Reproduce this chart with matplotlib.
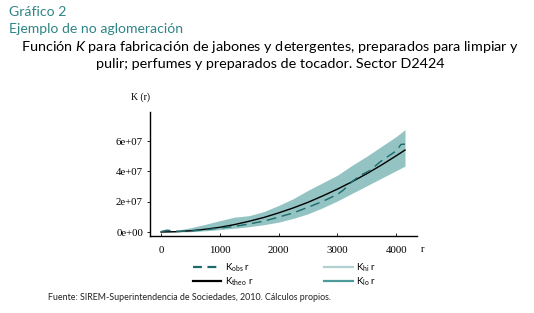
import matplotlib
matplotlib.use("Agg")
import matplotlib.pyplot as plt
from matplotlib.lines import Line2D

plt.rcParams['font.family'] = ['Lato', 'DejaVu Sans']
plt.rcParams['mathtext.fontset'] = 'custom'
plt.rcParams['mathtext.rm'] = 'Lato'
plt.rcParams['mathtext.it'] = 'Lato:italic'
plt.rcParams['mathtext.bf'] = 'Lato:bold'

# Data (K values in units of 1e6)
r_grid = [0, 250, 500, 750, 1000, 1250, 1500, 1750, 2000, 2250, 2500,
          2750, 3000, 3250, 3500, 3750, 4000, 4150]
k_theo = [0, 0.2, 0.8, 1.8, 3.1, 4.9, 7.1, 9.6, 12.6, 15.9, 19.6,
          23.8, 28.3, 33.2, 38.5, 44.2, 50.3, 54.1]
k_hi = [0.3, 1.0, 2.8, 5.0, 7.5, 9.8, 10.8, 13.5, 17.5, 22.0, 27.5,
        32.5, 37.5, 44.0, 50.0, 56.5, 63.0, 67.5]
k_lo = [0, 0, 0.2, 0.8, 1.6, 2.5, 3.5, 4.8, 6.5, 9.0, 12.0,
        16.0, 20.5, 25.5, 30.5, 35.5, 40.5, 43.5]

r_obs = [0, 100, 200, 300, 500, 750, 1000, 1250, 1500, 1750, 2000, 2250,
         2500, 2750, 3000, 3100, 3250, 3400, 3550, 3750, 3980, 4040, 4080, 4150]
k_obs = [0.3, 1.2, 0.8, 0.4, 0.6, 1.4, 2.6, 3.7, 5.3, 7.2, 9.8, 12.6,
         16.3, 20.2, 24.8, 27.6, 33.3, 37.6, 40.5, 47.0, 53.0, 55.5, 57.8, 58.0]

x_ticks = [0, 1000, 2000, 3000, 4000]
y_ticks = [0, 2e7, 4e7, 6e7]
y_tick_labels = ["0e+00", "2e+07", "4e+07", "6e+07"]

labels = [r"$\mathrm{K_{obs}}$ r", r"$\mathrm{K_{theo}}$ r",
          r"$\mathrm{K_{hi}}$ r", r"$\mathrm{K_{lo}}$ r"]

c_band = '#93c3c3'
c_obs = '#1e6a6a'
c_hi = '#b3d0d0'
c_lo = '#4f9a9a'

W, H = 534, 313
fig = plt.figure(figsize=(W / 100, H / 100), dpi=100)
ax = fig.add_axes([150 / W, 1 - 236 / H, (417 - 150) / W, (236 - 112) / H])

sc = 1e6
ax.fill_between(r_grid, [v * sc for v in k_lo], [v * sc for v in k_hi],
                color=c_band, lw=0)
ax.plot(r_grid, [v * sc for v in k_theo], color='black', lw=1.0)
ax.plot(r_obs, [v * sc for v in k_obs], color=c_obs, lw=1.0,
        dashes=(7, 4))

ax.set_xlim(-187, 4354)
ax.set_ylim(-2.64e6, 7.92e7)
for s in ['top', 'right']:
    ax.spines[s].set_visible(False)
for s in ['left', 'bottom']:
    ax.spines[s].set_linewidth(1.0)
ax.set_xticks(x_ticks)
ax.set_yticks(y_ticks)
ax.set_yticklabels(y_tick_labels)
ax.tick_params(axis='x', direction='in', length=2, width=0.6, pad=7)
ax.tick_params(axis='y', direction='out', length=2, width=0.6, pad=3)
for lab in ax.get_xticklabels() + ax.get_yticklabels():
    lab.set_fontfamily('Liberation Serif')
    lab.set_fontsize(7.8)

fig.text(131 / W, 1 - 97 / H, "K (r)", fontsize=7, family='Liberation Serif',
         ha='left', va='center')
fig.text(421 / W, 1 - 249 / H, "r", fontsize=7.5, family='Liberation Serif',
         ha='left', va='center')

handles = [Line2D([], [], color=c_obs, lw=1.6, dashes=(4, 2.5)),
           Line2D([], [], color='black', lw=1.6),
           Line2D([], [], color=c_hi, lw=1.6),
           Line2D([], [], color=c_lo, lw=1.6)]
fig.legend(handles, labels, ncol=2, loc='center left',
           bbox_to_anchor=(188 / W, 1 - 274.5 / H), frameon=False,
           fontsize=7, handlelength=2.9, columnspacing=7.3,
           labelspacing=0.2, handletextpad=0.4, borderpad=0)

fig.text(9 / W, 1 - 12 / H, "Gráfico 2", color='#2f8585', fontsize=10.1,
         ha='left', va='center')
fig.text(9 / W, 1 - 29 / H, "Ejemplo de no aglomeración", color='#2f8585',
         fontsize=10.1, ha='left', va='center')
fig.text(270 / W, 1 - 47 / H,
         r"Función $\mathit{K}$ para fabricación de jabones y detergentes, preparados para limpiar y",
         fontsize=10.4, ha='center', va='center', color='black')
fig.text(270 / W, 1 - 64 / H,
         "pulir; perfumes y preparados de tocador. Sector D2424",
         fontsize=10.4, ha='center', va='center', color='black')
fig.text(48 / W, 1 - 298 / H,
         "Fuente: SIREM-Superintendencia de Sociedades, 2010. Cálculos propios.",
         fontsize=6.4, ha='left', va='center', color='#222222')

fig.savefig("out.png", dpi=100)
